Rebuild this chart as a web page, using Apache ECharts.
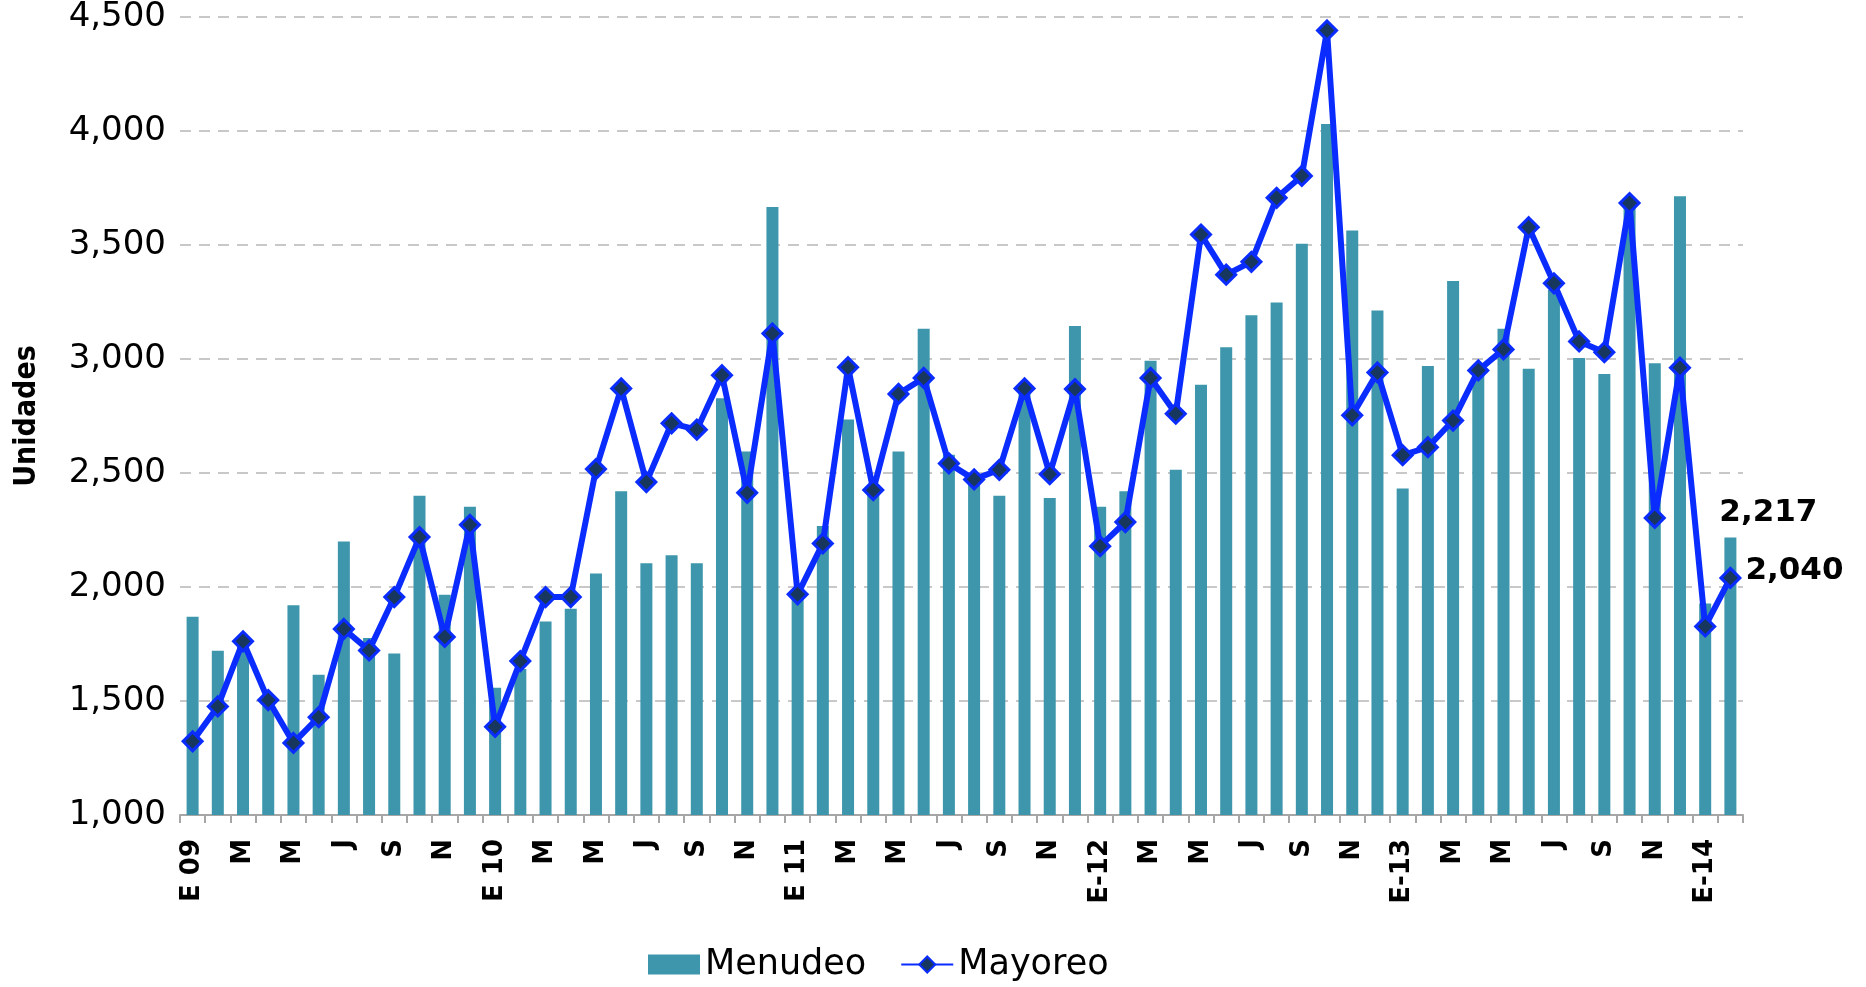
<!DOCTYPE html>
<html><head><meta charset="utf-8">
<script src="https://cdn.jsdelivr.net/npm/echarts@6/dist/echarts.min.js"></script>
<style>html,body{margin:0;padding:0;background:#fff}#c{width:1866px;height:987px}</style>
</head><body><div id="c"></div>
<script>
const categories = [
  "E 09","F","M","A","M","J","J","A","S","O","N","D",
  "E 10","F","M","A","M","J","J","A","S","O","N","D",
  "E 11","F","M","A","M","J","J","A","S","O","N","D",
  "E-12","F","M","A","M","J","J","A","S","O","N","D",
  "E-13","F","M","A","M","J","J","A","S","O","N","D",
  "E-14","F"
];
const menudeo = [
  1870,1720,1740,1480,1920,1615,2200,1776,1708,2400,1966,2352,
  1558,1640,1849,1905,2059,2420,2104,2139,2104,2828,2594,3667,
  1960,2268,2735,2440,2594,3133,2580,2460,2400,2860,2390,3145,
  2352,2420,2992,2514,2887,3051,3192,3248,3506,4031,3564,3213,
  2432,2969,3342,2930,3133,2957,3304,3004,2934,3670,2981,3714,
  1928,2217
];
const mayoreo = [
  1323,1476,1762,1504,1316,1429,1816,1722,1956,2219,1781,2273,
  1387,1675,1956,1956,2517,2871,2460,2718,2690,2929,2413,3112,
  1968,2191,2964,2425,2847,2917,2542,2472,2514,2871,2495,2868,
  2179,2285,2917,2760,3546,3370,3426,3707,3803,4441,2753,2941,
  2578,2613,2730,2950,3042,3578,3332,3077,3030,3684,2303,2962,
  1827,2040
];
const yTicks = {min: 1000, max: 4500, interval: 500};

const fmt = v => v.toLocaleString('en-US');
const lastIdx = menudeo.length - 1;
const barData = menudeo.map((v, i) => i === lastIdx ? {
  value: v,
  label: {show: true, position: 'top', offset: [38, -4], formatter: p => fmt(p.value),
          fontFamily: 'DejaVu Sans', fontWeight: 'bold', fontSize: 31, color: '#000'}
} : v);
const lineData = mayoreo.map((v, i) => i === lastIdx ? {
  value: v,
  label: {show: true, position: 'right', distance: 4, offset: [0, -7], formatter: p => fmt(p.value),
          fontFamily: 'DejaVu Sans', fontWeight: 'bold', fontSize: 31, color: '#000'}
} : v);

const chart = echarts.init(document.getElementById('c'));
chart.setOption({
  animation: false,
  backgroundColor: '#ffffff',
  grid: {left: 180, right: 123, top: 17, bottom: 172, containLabel: false},
  legend: {
    left: 643, top: 942,
    itemWidth: 52, itemHeight: 20, itemGap: 34,
    textStyle: {fontFamily: 'DejaVu Sans', fontSize: 35, color: '#000'},
    data: [
      {name: 'Menudeo', icon: 'rect'},
      {name: 'Mayoreo'}
    ]
  },
  xAxis: {
    type: 'category',
    data: categories,
    boundaryGap: true,
    axisLine: {lineStyle: {color: '#a6a6a6', width: 2}},
    axisTick: {show: true, interval: 0, length: 8, lineStyle: {color: '#a6a6a6', width: 2}},
    axisLabel: {interval: 1, rotate: 90, margin: 24, fontFamily: 'DejaVu Sans', fontWeight: 'bold',
                fontSize: 26, color: '#000'}
  },
  yAxis: {
    type: 'value',
    min: yTicks.min, max: yTicks.max, interval: yTicks.interval,
    name: 'Unidades', nameLocation: 'middle', nameGap: 138, nameRotate: 90,
    nameTextStyle: {fontFamily: "'DejaVu Sans Condensed', 'Liberation Sans Narrow', 'DejaVu Sans'",
                    fontWeight: 'bold', fontSize: 30, color: '#000'},
    axisLine: {show: false},
    axisTick: {show: false},
    axisLabel: {margin: 14, formatter: v => fmt(v), fontFamily: 'DejaVu Sans', fontSize: 34, color: '#000'},
    splitLine: {show: true, lineStyle: {color: '#c8c8c8', width: 2, type: [11, 8]}}
  },
  series: [
    {
      name: 'Menudeo', type: 'bar', data: barData, barWidth: 12,
      itemStyle: {color: '#3d96ab'}
    },
    {
      name: 'Mayoreo', type: 'line', data: lineData,
      showAllSymbol: true,
      symbol: 'diamond', symbolSize: 19,
      lineStyle: {color: '#0a2cff', width: 6},
      itemStyle: {color: '#17375e', borderColor: '#0a2cff', borderWidth: 3},
      z: 3
    }
  ]
});
</script>
</body></html>
